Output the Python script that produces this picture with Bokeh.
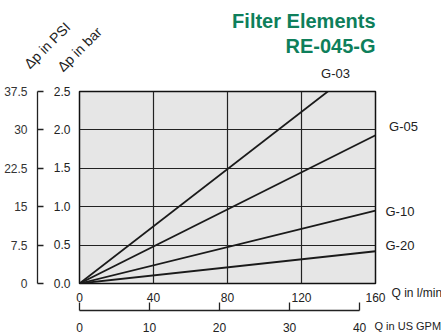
from bokeh.plotting import figure
from bokeh.models import Range1d, LinearAxis, FixedTicker, NumeralTickFormatter, Title
from bokeh.core.properties import value
from bokeh.embed import file_html
from bokeh.resources import INLINE

# ---- data ----
flow_lpm = [0, 160]
dp_g03 = [0, 2.98]
dp_g05 = [0, 1.93]
dp_g10 = [0, 0.95]
dp_g20 = [0, 0.42]
series_names = ["G-03", "G-05", "G-10", "G-20"]
x_ticks = [0, 40, 80, 120, 160]
y_ticks = [0.0, 0.5, 1.0, 1.5, 2.0, 2.5]
psi_ticks = [0, 7.5, 15, 22.5, 30, 37.5]
gpm_ticks = [0, 10, 20, 30, 40]
LPM_PER_GPM = 3.785
title_lines = ["Filter Elements", "RE-045-G"]
x_caption = "Q in l/min"
gpm_caption = "Q in US GPM"
y_captions = ["Δp in PSI", "Δp in bar"]

FONT = "Liberation Sans"
TXT = "#222222"
GREEN = "#0e7f5b"
NB = "\u00a0"

# ---- layout geometry (pixels) ----
W, H = 441, 335
TOP_H = 80
FR_L, FR_R, FR_T, FR_B = 79, 375, 91, 283
X0, X1, Y0, Y1 = 0, 160, 0, 2.5
px_per_x = (FR_R - FR_L) / (X1 - X0)
px_per_y = (FR_B - FR_T) / (Y1 - Y0)

# ---------------- top strip (title, rotated captions, G-03) ----------------
top = figure(width=W, height=TOP_H, output_backend="svg", toolbar_location=None,
             x_range=Range1d(X0 - FR_L / px_per_x, X0 + (W - FR_L) / px_per_x),
             y_range=Range1d(Y1 + (FR_T - TOP_H) / px_per_y, Y1 + FR_T / px_per_y),
             x_axis_location=None, y_axis_location=None,
             min_border_left=0, min_border_right=0, min_border_top=0, min_border_bottom=0)
top.outline_line_color = None
top.grid.visible = False
top.background_fill_color = "white"
top.border_fill_color = "white"

top.text(x=[160, 160], y=[3.42, 3.09], text=title_lines, text_align="right",
         text_baseline="middle", text_font=value(FONT), text_font_size=value("20px"),
         text_font_style="bold", text_color=GREEN)
top.text(x=[-17.5, 0.0], y=[3.10, 3.05], text=y_captions, text_align="center",
         text_baseline="middle", text_font=value(FONT), text_font_size=value("14px"),
         text_color=TXT, angle=45, angle_units="deg")
top.text(x=[138.4], y=[2.74], text=[series_names[0]], text_align="center",
         text_baseline="middle", text_font=value(FONT), text_font_size=value("13px"),
         text_color=TXT)

# ---------------- main chart ----------------
p = figure(width=W, height=H - TOP_H, output_backend="svg", toolbar_location=None,
           x_range=Range1d(X0, X1), y_range=Range1d(Y0, Y1),
           min_border_left=FR_L, min_border_right=W - FR_R,
           min_border_top=FR_T - TOP_H, min_border_bottom=H - FR_B)
p.background_fill_color = "#e6e6e6"
p.border_fill_color = "white"
p.outline_line_color = "#111111"
p.outline_line_width = 1.5

p.extra_y_ranges = {"psi": Range1d(0, 37.5)}
p.extra_x_ranges = {"gpm": Range1d(0, X1 / LPM_PER_GPM)}

# grid
p.xgrid.ticker = FixedTicker(ticks=x_ticks)
p.ygrid.ticker = FixedTicker(ticks=y_ticks)
for g in (p.xgrid, p.ygrid):
    g.grid_line_color = "#222222"
    g.grid_line_width = 1.2

# main x axis (l/min)
xa = p.xaxis[0]
xa.ticker = FixedTicker(ticks=x_ticks)
xa.axis_line_color = None
xa.major_tick_line_color = None
xa.minor_tick_line_color = None
xa.major_label_standoff = 3
xa.major_label_text_font = FONT
xa.major_label_text_font_size = "12px"
xa.major_label_text_color = TXT
xa.axis_label = " "
xa.axis_label_standoff = 0
xa.axis_label_text_font_size = "3px"

# main y axis (bar)
ya = p.yaxis[0]
ya.ticker = FixedTicker(ticks=y_ticks)
ya.major_label_overrides = {t: NB * 4 + f"{t:.1f}" for t in y_ticks}
ya.axis_line_color = None
ya.major_tick_line_color = None
ya.major_tick_out = 0
ya.major_tick_in = 0
ya.minor_tick_line_color = None
ya.major_label_standoff = 9
ya.major_label_text_font = FONT
ya.major_label_text_font_size = "12px"
ya.major_label_text_color = TXT

# psi axis (outer left)
psi = LinearAxis(y_range_name="psi", ticker=FixedTicker(ticks=psi_ticks),
                 formatter=NumeralTickFormatter(format="0.[0]"))
psi.axis_line_color = "#222222"
psi.axis_line_width = 1.3
psi.major_tick_line_color = "#222222"
psi.major_tick_line_width = 1.3
psi.major_tick_in = 6
psi.major_tick_out = 0
psi.minor_tick_line_color = None
psi.major_label_standoff = 10
psi.major_label_text_font = FONT
psi.major_label_text_font_size = "12px"
psi.major_label_text_color = "#333333"
p.add_layout(psi, "left")

# gpm axis (outer bottom)
gpm = LinearAxis(x_range_name="gpm", ticker=FixedTicker(ticks=gpm_ticks), bounds=(0, 40))
gpm.axis_line_color = "#222222"
gpm.axis_line_width = 1.3
gpm.major_tick_line_color = "#222222"
gpm.major_tick_line_width = 1.3
gpm.major_tick_in = 8
gpm.major_tick_out = 0
gpm.minor_tick_line_color = None
gpm.major_label_standoff = 12
gpm.major_label_text_font = FONT
gpm.major_label_text_font_size = "12px"
gpm.major_label_text_color = TXT
p.add_layout(gpm, "below")

# captions to the right of the two x axes (titles pulled up into the axis rows)
p.add_layout(Title(text=gpm_caption, align="left", vertical_align="top", offset=295,
                   standoff=-29, text_font=FONT, text_font_size="11px",
                   text_font_style="normal", text_color=TXT), "below")
p.add_layout(Title(text=x_caption, align="left", vertical_align="top", offset=312,
                   standoff=-98, text_font=FONT, text_font_size="12px",
                   text_font_style="normal", text_color=TXT), "below")

# right axis: series end labels
right_pos = [2.04, 0.94, 0.49]
right_txt = [NB + series_names[1], series_names[2], series_names[3]]
ra = LinearAxis(ticker=FixedTicker(ticks=right_pos))
ra.major_label_overrides = dict(zip(right_pos, right_txt))
ra.axis_line_color = None
ra.major_tick_line_color = None
ra.major_tick_out = 0
ra.major_tick_in = 0
ra.minor_tick_line_color = None
ra.major_label_standoff = 10
ra.major_label_text_font = FONT
ra.major_label_text_font_size = "13px"
ra.major_label_text_color = TXT
p.add_layout(ra, "right")

# series lines
for ys in (dp_g03, dp_g05, dp_g10, dp_g20):
    p.line(flow_lpm, ys, line_color="#1a1a1a", line_width=1.8)

open("out.html", "w").write(file_html([top, p], INLINE))
